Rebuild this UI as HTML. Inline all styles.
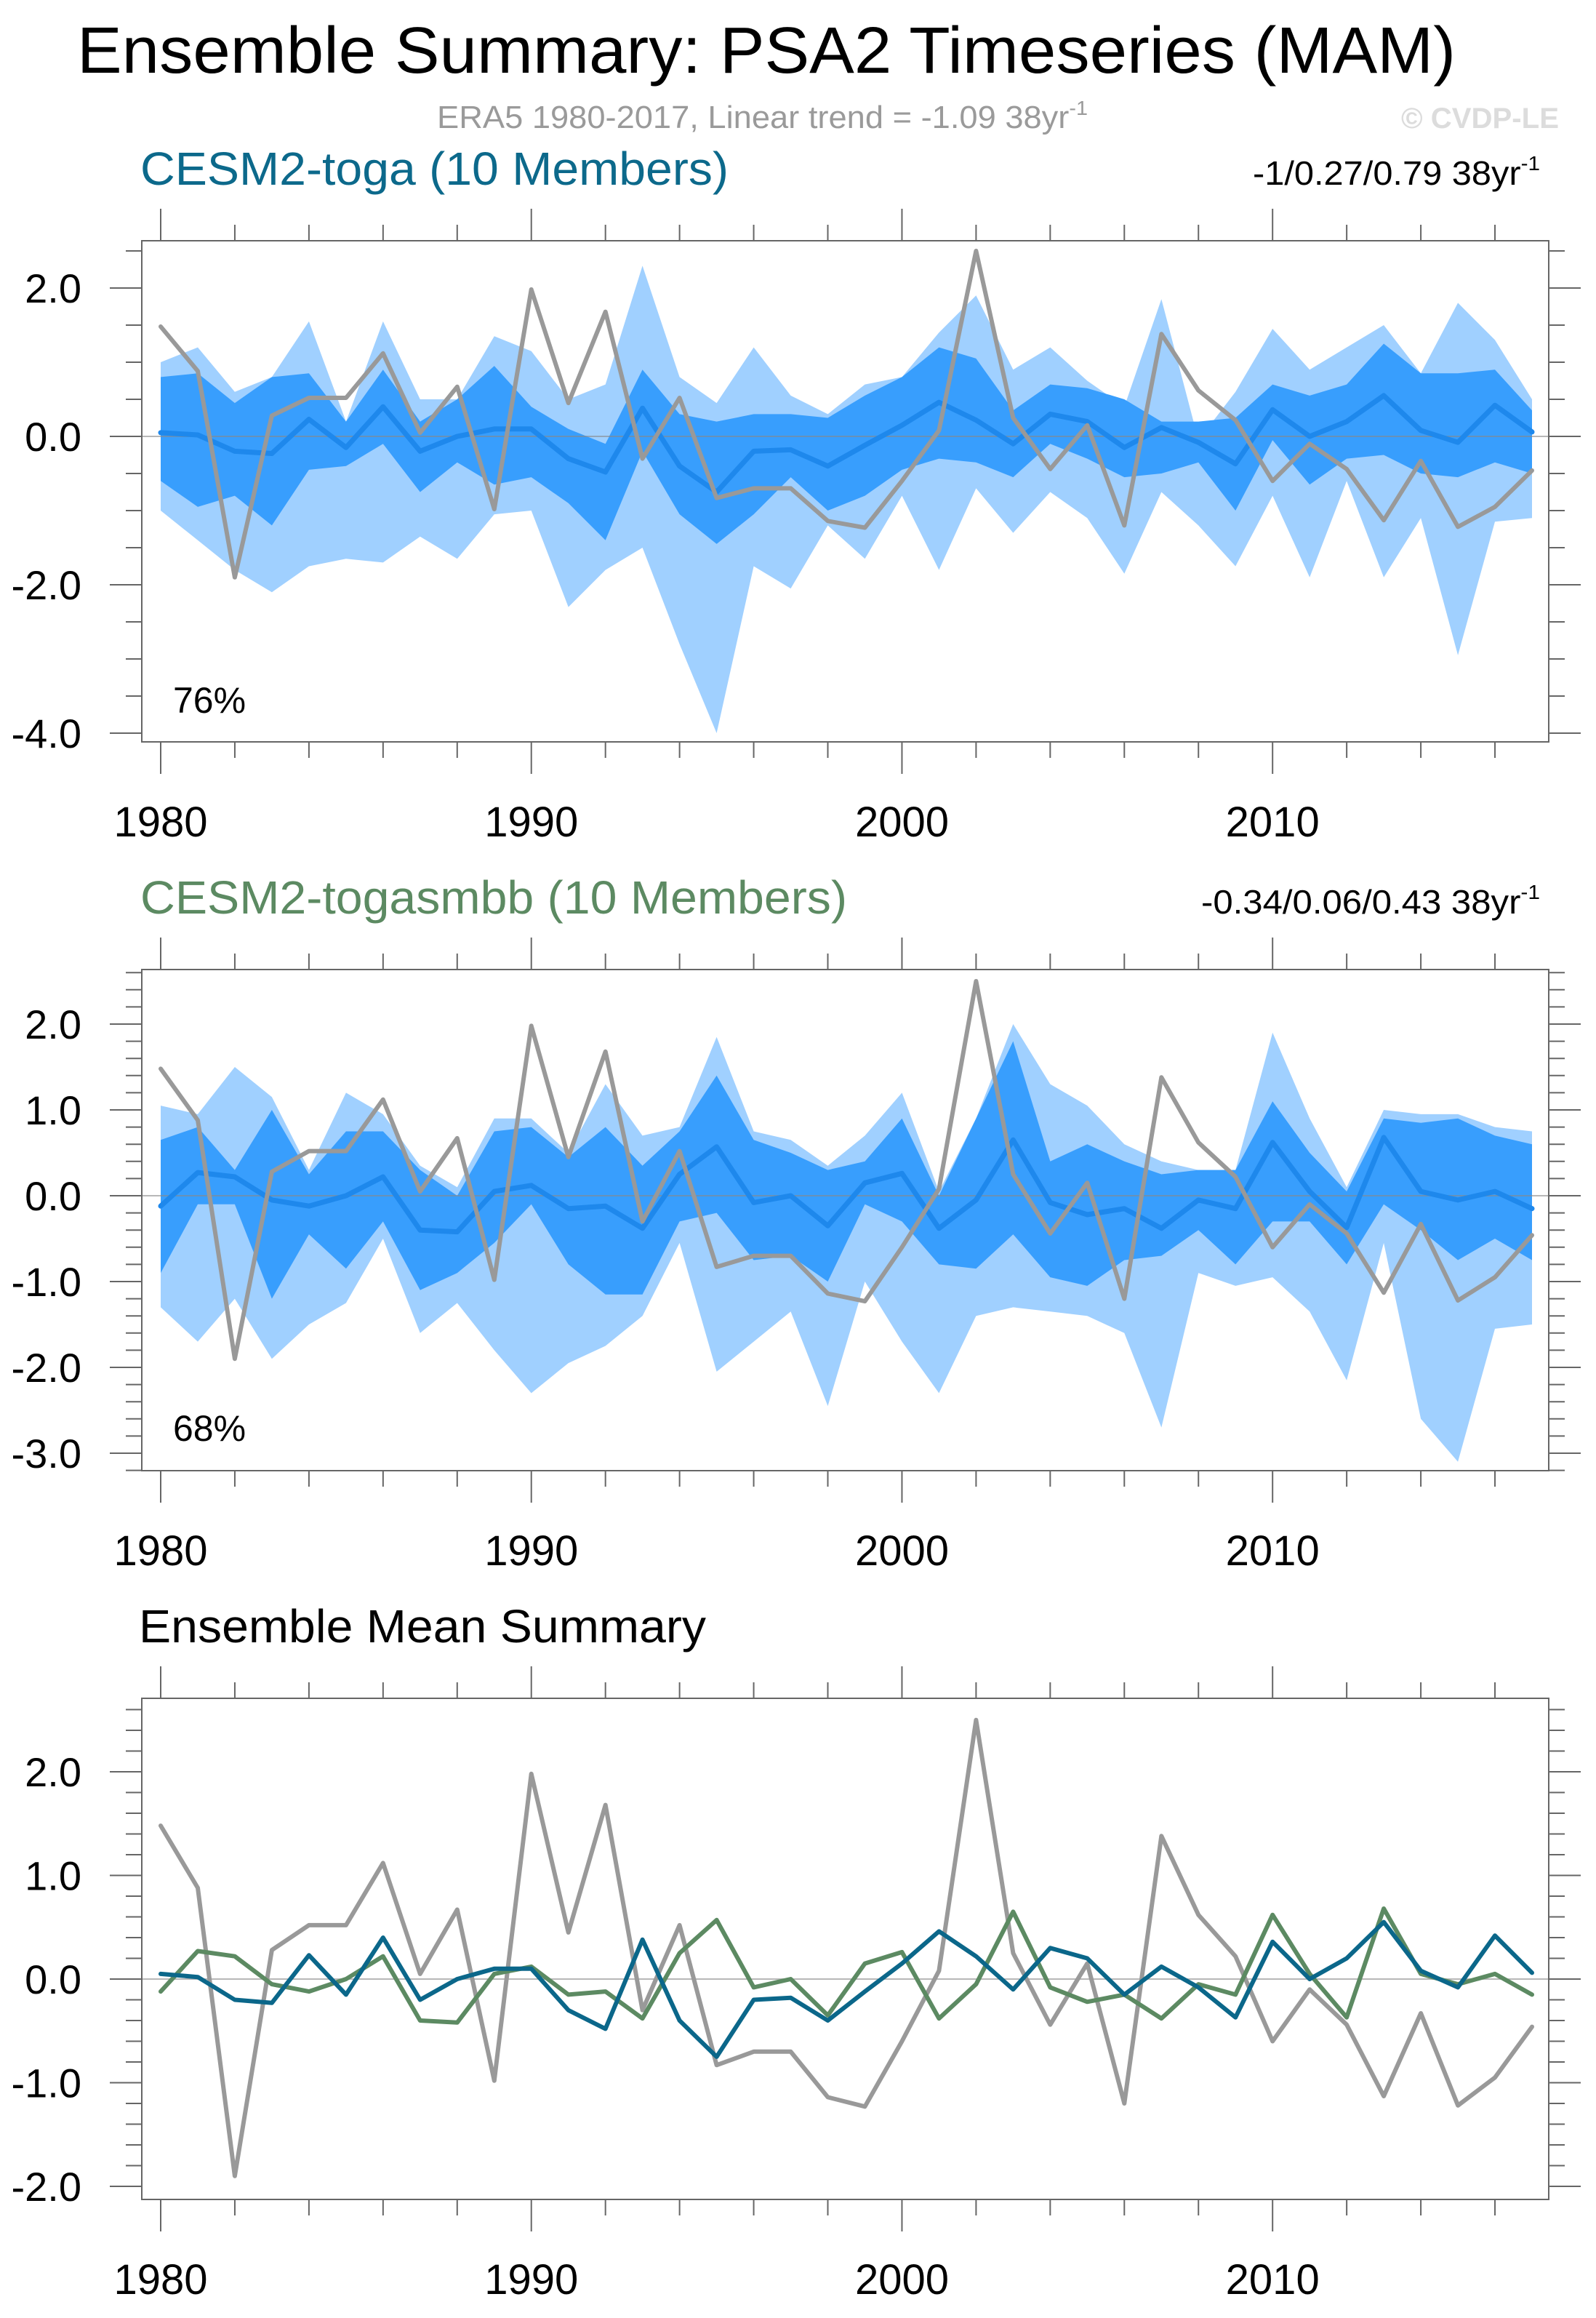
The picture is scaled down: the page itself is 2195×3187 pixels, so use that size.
<!DOCTYPE html>
<html><head><meta charset="utf-8"><style>
html,body{margin:0;padding:0;background:#fff;}
svg{display:block;font-family:"Liberation Sans",sans-serif;}
</style></head><body>
<svg id="chart" width="2195" height="3187" viewBox="0 0 2195 3187" xmlns="http://www.w3.org/2000/svg">
<rect width="2195" height="3187" fill="#fff"/>
<text x="106" y="100" font-size="90" textLength="1896" lengthAdjust="spacingAndGlyphs">Ensemble Summary: PSA2 Timeseries (MAM)</text>
<text x="601" y="176" font-size="44" fill="#9a9a9a" textLength="895" lengthAdjust="spacingAndGlyphs">ERA5 1980-2017, Linear trend = -1.09 38yr<tspan dy="-18" font-size="28">-1</tspan></text>
<text x="1927" y="176" font-size="40" font-weight="bold" fill="#dcdcdc" textLength="217" lengthAdjust="spacingAndGlyphs">© CVDP-LE</text>
<text x="193" y="254" font-size="64" fill="#0c698b" textLength="809" lengthAdjust="spacingAndGlyphs">CESM2-toga (10 Members)</text>
<text x="1723" y="254" font-size="46" textLength="395" lengthAdjust="spacingAndGlyphs">-1/0.27/0.79 38yr<tspan dy="-20" font-size="28">-1</tspan></text>
<text x="193" y="1256" font-size="64" fill="#5c8a62" textLength="972" lengthAdjust="spacingAndGlyphs">CESM2-togasmbb (10 Members)</text>
<text x="1652" y="1256" font-size="46" textLength="466" lengthAdjust="spacingAndGlyphs">-0.34/0.06/0.43 38yr<tspan dy="-20" font-size="28">-1</tspan></text>
<text x="191" y="2258" font-size="64" textLength="780" lengthAdjust="spacingAndGlyphs">Ensemble Mean Summary</text>
</svg>
<script>
const years=[1980,1981,1982,1983,1984,1985,1986,1987,1988,1989,1990,1991,1992,1993,1994,1995,1996,1997,1998,1999,2000,2001,2002,2003,2004,2005,2006,2007,2008,2009,2010,2011,2012,2013,2014,2015,2016,2017];
const era5=[1.48,0.88,-1.9,0.28,0.52,0.52,1.12,0.05,0.67,-0.98,1.98,0.45,1.68,-0.3,0.52,-0.83,-0.7,-0.7,-1.14,-1.23,-0.6,0.08,2.5,0.25,-0.44,0.15,-1.2,1.38,0.62,0.22,-0.6,-0.1,-0.44,-1.13,-0.33,-1.22,-0.95,-0.46];
const togaMean=[0.05,0.02,-0.2,-0.23,0.23,-0.15,0.4,-0.2,0.0,0.1,0.1,-0.3,-0.48,0.38,-0.4,-0.75,-0.2,-0.18,-0.4,-0.12,0.15,0.46,0.22,-0.1,0.3,0.2,-0.15,0.12,-0.08,-0.37,0.36,0.0,0.2,0.55,0.08,-0.08,0.42,0.06];
const smbbMean=[-0.12,0.27,0.22,-0.05,-0.12,0.0,0.22,-0.4,-0.42,0.05,0.12,-0.15,-0.12,-0.38,0.25,0.57,-0.08,0.0,-0.35,0.15,0.26,-0.38,-0.05,0.65,-0.08,-0.22,-0.15,-0.38,-0.05,-0.15,0.62,0.05,-0.37,0.68,0.05,-0.05,0.05,-0.15];
const togaMax=[1.0,1.2,0.6,0.8,1.55,0.2,1.55,0.5,0.5,1.35,1.15,0.5,0.7,2.3,0.8,0.45,1.2,0.55,0.3,0.7,0.8,1.4,1.9,0.9,1.2,0.75,0.4,1.85,-0.05,0.6,1.45,0.9,1.2,1.5,0.85,1.8,1.3,0.5];
const togaMin=[-1.0,-1.4,-1.8,-2.1,-1.75,-1.65,-1.7,-1.35,-1.65,-1.05,-1.0,-2.3,-1.8,-1.5,-2.8,-4.0,-1.75,-2.05,-1.2,-1.65,-0.8,-1.8,-0.7,-1.3,-0.75,-1.1,-1.85,-0.75,-1.2,-1.75,-0.8,-1.9,-0.6,-1.9,-1.1,-2.95,-1.15,-1.1];
const togaHi=[0.8,0.85,0.45,0.8,0.85,0.2,0.9,0.2,0.5,0.95,0.4,0.1,-0.1,0.9,0.3,0.2,0.3,0.3,0.25,0.55,0.8,1.2,1.05,0.35,0.7,0.65,0.5,0.2,0.2,0.25,0.7,0.55,0.7,1.25,0.85,0.85,0.9,0.35];
const togaLo=[-0.6,-0.95,-0.8,-1.2,-0.45,-0.4,-0.1,-0.75,-0.35,-0.65,-0.55,-0.9,-1.4,-0.2,-1.05,-1.45,-1.05,-0.55,-1.0,-0.8,-0.45,-0.3,-0.35,-0.55,-0.1,-0.3,-0.55,-0.5,-0.35,-1.0,-0.05,-0.65,-0.3,-0.25,-0.5,-0.55,-0.35,-0.5];
const smbbMax=[1.05,0.95,1.5,1.15,0.3,1.2,0.95,0.35,0.1,0.9,0.9,0.5,1.3,0.7,0.8,1.85,0.75,0.65,0.35,0.7,1.2,0.05,0.9,2.0,1.3,1.05,0.6,0.4,0.3,0.3,1.9,0.9,0.1,1.0,0.95,0.95,0.8,0.75];
const smbbMin=[-1.3,-1.7,-1.2,-1.9,-1.5,-1.25,-0.5,-1.6,-1.25,-1.8,-2.3,-1.95,-1.75,-1.4,-0.55,-2.05,-1.7,-1.35,-2.45,-1.0,-1.7,-2.3,-1.4,-1.3,-1.35,-1.4,-1.6,-2.7,-0.9,-1.05,-0.95,-1.35,-2.15,-0.55,-2.6,-3.1,-1.55,-1.5];
const smbbHi=[0.65,0.8,0.3,1.0,0.25,0.75,0.75,0.3,0.0,0.75,0.8,0.45,0.8,0.35,0.75,1.4,0.65,0.5,0.3,0.4,0.9,0.0,0.9,1.8,0.4,0.6,0.4,0.25,0.3,0.3,1.1,0.5,0.05,0.9,0.85,0.9,0.7,0.6];
const smbbLo=[-0.9,-0.1,-0.1,-1.2,-0.45,-0.85,-0.3,-1.1,-0.9,-0.55,-0.1,-0.8,-1.15,-1.15,-0.3,-0.2,-0.75,-0.7,-1.0,-0.1,-0.3,-0.8,-0.85,-0.45,-0.95,-1.05,-0.75,-0.7,-0.4,-0.8,-0.3,-0.3,-0.8,-0.1,-0.4,-0.75,-0.5,-0.75];
const p1Ticks=[2.0,0.0,-2.0,-4.0];
const p2Ticks=[2.0,1.0,0.0,-1.0,-2.0,-3.0];
const p3Ticks=[2.0,1.0,0.0,-1.0,-2.0];
const xTicks=[1980,1990,2000,2010];

const svg=document.getElementById('chart');
const NS='http://www.w3.org/2000/svg';
function mk(tag,attrs,parent){const e=document.createElementNS(NS,tag);for(const k in attrs)e.setAttribute(k,attrs[k]);(parent||svg).appendChild(e);return e;}
const BX0=195,BX1=2130;
function xs(y){return 221+(y-1980)*(2107-221)/37;}

function panel(name,top,bot,v0,y0,v1,y1,ticks,minorStep,pct,pctY,bands,lines){
  const ys=v=>y0+(v-v0)*(y1-y0)/(v1-v0);
  const g=mk('g',{});
  
  
  mk('rect',{x:BX0,y:top,width:BX1-BX0,height:bot-top,fill:'#fff'},g);
  bands.forEach(b=>{
    let d='';
    b.hi.forEach((v,i)=>{d+=(i?'L':'M')+xs(years[i]).toFixed(1)+','+ys(v).toFixed(1);});
    for(let i=b.lo.length-1;i>=0;i--)d+='L'+xs(years[i]).toFixed(1)+','+ys(b.lo[i]).toFixed(1);
    const p=mk('path',{d:d+'Z',fill:b.color},g);
    
    
  });
  const zl=mk('line',{x1:BX0,x2:BX1,y1:ys(0),y2:ys(0),stroke:'#888','stroke-width':2,'stroke-opacity':0.6},g);
  
  
  lines.forEach(l=>{
    const pts=l.vals.map((v,i)=>xs(years[i]).toFixed(1)+','+ys(v).toFixed(1)).join(' ');
    const pl=mk('polyline',{points:pts,fill:'none',stroke:l.color,'stroke-width':l.w,'stroke-linejoin':'round','stroke-linecap':'round'},g);
    
    
  });
  mk('rect',{x:BX0,y:top,width:BX1-BX0,height:bot-top,fill:'none',stroke:'#666','stroke-width':2},g);
  const vTop=v0+(top-y0)*(v1-v0)/(y1-y0), vBot=v0+(bot-y0)*(v1-v0)/(y1-y0);
  const lo=Math.min(vTop,vBot),hi=Math.max(vTop,vBot);
  for(let k=Math.ceil(lo/minorStep-1e-6);k*minorStep<=hi+1e-6;k++){
    const v=k*minorStep,y=ys(v);
    const major=ticks.some(t=>Math.abs(t-v)<1e-6);
    const L=major?44:22;
    mk('line',{x1:BX0-L,x2:BX0,y1:y,y2:y,stroke:'#666','stroke-width':2},g);
    mk('line',{x1:BX1,x2:BX1+L,y1:y,y2:y,stroke:'#666','stroke-width':2},g);
  }
  ticks.forEach(t=>{
    const tx=mk('text',{x:112,y:ys(t)+20,'font-size':56,'text-anchor':'end'},g);
    tx.textContent=t.toFixed(1);
    
    
  });
  for(let yr=1980;yr<=2016;yr+=2){
    const L=(yr%10===0)?44:22;
    mk('line',{x1:xs(yr),x2:xs(yr),y1:top-L,y2:top,stroke:'#666','stroke-width':2},g);
    mk('line',{x1:xs(yr),x2:xs(yr),y1:bot,y2:bot+L,stroke:'#666','stroke-width':2},g);
  }
  xTicks.forEach(t=>{
    const tx=mk('text',{x:xs(t),y:bot+130,'font-size':58,'text-anchor':'middle'},g);
    tx.textContent=String(t);
    
    
  });
  if(pct){
    const tx=mk('text',{x:238,y:pctY,'font-size':50},g);
    tx.textContent=pct;
    
    
  }
}
const LIGHT='#a0d0ff',DARK='#389efd',MEANB='#1e88ec',GRAY='#999999';
panel('toga-panel',331,1020,2,396,0,600,p1Ticks,0.5,'76%',980,
  [{name:'toga-range-band',hi:togaMax,lo:togaMin,color:LIGHT},{name:'toga-iqr-band',hi:togaHi,lo:togaLo,color:DARK}],
  [{name:'toga-mean-line',vals:togaMean,color:MEANB,w:7},{name:'era5-line',vals:era5,color:GRAY,w:6}]);
panel('togasmbb-panel',1333,2022,2,1408,0,1644,p2Ticks,0.2,'68%',1981,
  [{name:'togasmbb-range-band',hi:smbbMax,lo:smbbMin,color:LIGHT},{name:'togasmbb-iqr-band',hi:smbbHi,lo:smbbLo,color:DARK}],
  [{name:'togasmbb-mean-line',vals:smbbMean,color:MEANB,w:7},{name:'era5-line',vals:era5,color:GRAY,w:6}]);
panel('ensemble-mean-panel',2335,3024,2,2436,0,2721,p3Ticks,0.2,null,0,[],
  [{name:'era5-line',vals:era5,color:GRAY,w:6},{name:'togasmbb-mean-line',vals:smbbMean,color:'#5c8a62',w:6},{name:'toga-mean-line',vals:togaMean,color:'#0b678a',w:6}]);
</script>
</body></html>
